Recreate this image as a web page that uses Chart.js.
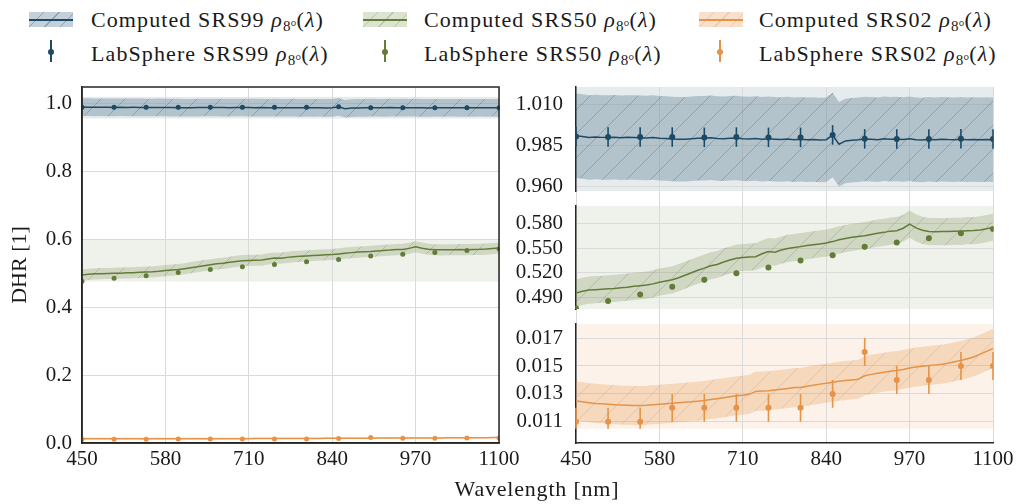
<!DOCTYPE html>
<html>
<head>
<meta charset="utf-8">
<script src="https://cdn.jsdelivr.net/npm/chart.js@4.4.1/dist/chart.umd.min.js"></script>
<style>
  body { margin: 0; background: #fff; font-family: "Liberation Serif", serif; color: #1a1a1a; }
  #fig { position: relative; width: 1019px; height: 504px; overflow: hidden; }
  .lg { position: absolute; font-size: 22px; line-height: 1; white-space: nowrap; letter-spacing: 1.1px; }
  .lg sub { font-size: 15px; vertical-align: -4px; letter-spacing: 0; }
  .sw { position: absolute; top: 12px; width: 44px; height: 15px; }
  .sw div { position: absolute; left: 0; right: 0; top: 6.5px; height: 2px; }
  .eb { position: absolute; top: 40px; width: 2px; height: 22px; }
  .eb div { position: absolute; left: -2px; top: 9px; width: 6px; height: 6px; border-radius: 3px; }
  #left { position: absolute; left: 0; top: 80px; }
  #right { position: absolute; left: 510px; top: 80px; }
  #xlabel { position: absolute; left: 387px; width: 300px; top: 478px; text-align: center; font-size: 22px; line-height: 1; letter-spacing: 0.8px; }
</style>
</head>
<body>
<div id="fig">
  <div class="sw" style="left:29px;background:repeating-linear-gradient(135deg,#c3d0d9 0 10px,#8da3b3 10px 11px);"><div style="background:#1d4a66"></div></div>
  <div class="lg" style="left:91px;top:9px">Computed SRS99 <i>ρ</i><sub>8°</sub>(<i>λ</i>)</div>
  <div class="sw" style="left:363px;background:repeating-linear-gradient(135deg,#dde3d1 0 10px,#b9c5a4 10px 11px);"><div style="background:#627d38"></div></div>
  <div class="lg" style="left:424px;top:9px">Computed SRS50 <i>ρ</i><sub>8°</sub>(<i>λ</i>)</div>
  <div class="sw" style="left:699px;background:repeating-linear-gradient(135deg,#f7e1cd 0 10px,#efc7a2 10px 11px);"><div style="background:#e69348"></div></div>
  <div class="lg" style="left:759px;top:9px">Computed SRS02 <i>ρ</i><sub>8°</sub>(<i>λ</i>)</div>

  <div class="eb" style="left:50px;background:#1d4a66"><div style="background:#1d4a66"></div></div>
  <div class="lg" style="left:91px;top:43px">LabSphere SRS99 <i>ρ</i><sub>8°</sub>(<i>λ</i>)</div>
  <div class="eb" style="left:384px;background:#627d38"><div style="background:#627d38"></div></div>
  <div class="lg" style="left:424px;top:43px">LabSphere SRS50 <i>ρ</i><sub>8°</sub>(<i>λ</i>)</div>
  <div class="eb" style="left:719px;background:#e69348"><div style="background:#e69348"></div></div>
  <div class="lg" style="left:759px;top:43px">LabSphere SRS02 <i>ρ</i><sub>8°</sub>(<i>λ</i>)</div>

  <canvas id="left" width="540" height="400"></canvas>
  <canvas id="right" width="509" height="400"></canvas>
  <div id="xlabel">Wavelength [nm]</div>
</div>
<script>
// wavelengths of the computed spectra [nm]
const wavelengths = [450, 460, 470, 480, 490, 500, 510, 520, 530, 540, 550, 560, 570, 580, 590,
  600, 610, 620, 630, 640, 650, 660, 670, 680, 690, 700, 710, 720, 730, 740, 750, 760, 770, 780,
  790, 800, 810, 820, 830, 840, 850, 860, 870, 880, 890, 900, 910, 920, 930, 940, 950, 960, 970,
  980, 990, 1000, 1010, 1020, 1030, 1040, 1050, 1060, 1070, 1080, 1090, 1100];

const srs99Computed = [0.9910, 0.9905, 0.9900, 0.9902, 0.9900, 0.9899, 0.9901, 0.9898, 0.9900, 0.9899,
  0.9897, 0.9896, 0.9899, 0.9895, 0.9893, 0.9890, 0.9888, 0.9889, 0.9892, 0.9894, 0.9895, 0.9897,
  0.9893, 0.9891, 0.9894, 0.9896, 0.9892, 0.9890, 0.9893, 0.9888, 0.9891, 0.9889, 0.9887, 0.9890,
  0.9886, 0.9888, 0.9885, 0.9887, 0.9884, 0.9886, 0.9914, 0.9858, 0.9878, 0.9883, 0.9886, 0.9890,
  0.9888, 0.9885, 0.9892, 0.9889, 0.9890, 0.9887, 0.9891, 0.9886, 0.9884, 0.9888, 0.9886, 0.9889,
  0.9887, 0.9886, 0.9888, 0.9886, 0.9887, 0.9885, 0.9887, 0.9886];

const srs50Computed = [0.4953, 0.4975, 0.4990, 0.4995, 0.5000, 0.5005, 0.5010, 0.5018, 0.5025, 0.5035,
  0.5042, 0.5050, 0.5065, 0.5085, 0.5100, 0.5114, 0.5140, 0.5170, 0.5200, 0.5230, 0.5256, 0.5285,
  0.5300, 0.5330, 0.5355, 0.5377, 0.5385, 0.5390, 0.5395, 0.5430, 0.5457, 0.5450, 0.5475, 0.5495,
  0.5505, 0.5517, 0.5530, 0.5540, 0.5550, 0.5560, 0.5578, 0.5600, 0.5615, 0.5630, 0.5640, 0.5650,
  0.5665, 0.5680, 0.5690, 0.5705, 0.5710, 0.5740, 0.5789, 0.5745, 0.5715, 0.5700, 0.5698, 0.5700,
  0.5700, 0.5705, 0.5703, 0.5710, 0.5712, 0.5720, 0.5735, 0.5752];

const srs02Computed = [0.01250, 0.01243, 0.01237, 0.01232, 0.01229, 0.01226, 0.01223, 0.01220, 0.01218,
  0.01217, 0.01216, 0.01218, 0.01222, 0.01226, 0.01229, 0.01233, 0.01236, 0.01240, 0.01244, 0.01248,
  0.01252, 0.01260, 0.01266, 0.01273, 0.01280, 0.01286, 0.01290, 0.01297, 0.01318, 0.01320, 0.01322,
  0.01328, 0.01333, 0.01338, 0.01345, 0.01346, 0.01355, 0.01362, 0.01370, 0.01376, 0.01383, 0.01390,
  0.01396, 0.01400, 0.01405, 0.01430, 0.01440, 0.01448, 0.01455, 0.01462, 0.01467, 0.01475, 0.01485,
  0.01492, 0.01498, 0.01504, 0.01508, 0.01512, 0.01520, 0.01530, 0.01540, 0.01552, 0.01565, 0.01585,
  0.01605, 0.01625];

// half width of the computed uncertainty bands
const srs99Band = 0.026;
const srs50Band = 0.0165;
const srs02Band = 0.0014;

// LabSphere certificate values
const labWavelengths = [450, 500, 550, 600, 650, 700, 750, 800, 850, 900, 950, 1000, 1050, 1100];
const srs99Measured = [0.9905, 0.9902, 0.9902, 0.9902, 0.9900, 0.9902, 0.9900, 0.9900, 0.9915, 0.9891, 0.9890, 0.9890, 0.9891, 0.9890];
const srs50Measured = [0.477, 0.4856, 0.4936, 0.503, 0.5114, 0.5195, 0.5263, 0.5348, 0.5413, 0.5514, 0.5566, 0.562, 0.568, 0.573];
const srs02Measured = [0.011, 0.011, 0.011, 0.012, 0.012, 0.012, 0.012, 0.012, 0.013, 0.016, 0.014, 0.014, 0.015, 0.015];
const srs99Err = 0.006;
const srs50Err = 0.003;
const srs02Err = 0.001;

const xTicks = [450, 580, 710, 840, 970, 1100];
const leftTicks = [0.0, 0.2, 0.4, 0.6, 0.8, 1.0];
const topTicks = [0.960, 0.985, 1.010];
const midTicks = [0.490, 0.520, 0.550, 0.580];
const lowTicks = [0.011, 0.013, 0.015, 0.017];

const BLUE = '#1d4a66', GREEN = '#627d38', ORANGE = '#e69348';
const GRID = '#dadada', SPINE = '#262626', TEXT = '#1a1a1a';
const SERIF = '"Liberation Serif", serif';
const tickFont = {family: SERIF, size: 21, lineHeight: 1.2};

function hatch(fill, line) {
    let c = document.createElement('canvas');
    c.width = 24; c.height = 24;
    let g = c.getContext('2d');
    g.fillStyle = fill;
    g.fillRect(0, 0, 24, 24);
    g.strokeStyle = line;
    g.lineWidth = 0.8;
    g.beginPath();
    g.moveTo(-2, 26); g.lineTo(26, -2);
    g.stroke();
    return g.createPattern(c, 'repeat');
}

function band(values, half, color, pattern, axis, lo, hi) {
    let clamp = v => Math.min(hi, Math.max(lo, v));
    return [{
        data: wavelengths.map((w, i) => ({x: w, y: clamp(values[i] + half)})),
        yAxisID: axis, pointRadius: 0, borderWidth: 0, fill: false
    }, {
        data: wavelengths.map((w, i) => ({x: w, y: clamp(values[i] - half)})),
        yAxisID: axis, pointRadius: 0, borderWidth: 0, fill: '-1', backgroundColor: pattern
    }, {
        data: wavelengths.map((w, i) => ({x: w, y: values[i]})),
        yAxisID: axis, pointRadius: 0, borderWidth: 1.5, borderColor: color, fill: false
    }];
}

function measured(values, err, color, axis, radius, clip) {
    return {
        data: labWavelengths.map((w, i) => ({x: w, y: values[i]})),
        yAxisID: axis, showLine: false, pointRadius: radius, pointBorderWidth: 0,
        pointBackgroundColor: color, borderColor: color, err: err, errClip: clip
    };
}

// light shading of the zoomed ranges
const shade = {
    id: 'shade',
    beforeDraw(chart, args, opts) {
        let {ctx, chartArea} = chart;
        opts.rects.forEach(r => {
            let s = chart.scales[r.axis];
            let top = s.getPixelForValue(r.hi), bottom = s.getPixelForValue(r.lo);
            ctx.fillStyle = r.color;
            ctx.fillRect(chartArea.left, top, chartArea.right - chartArea.left, bottom - top);
        });
    }
};

const errorBars = {
    id: 'errorBars',
    beforeDatasetDraw(chart, args) {
        let ds = chart.data.datasets[args.index];
        if (!ds.err) return;
        let ctx = chart.ctx, xs = chart.scales.x, ys = chart.scales[ds.yAxisID];
        let clip = ds.errClip || [ys.min, ys.max];
        let top = ys.getPixelForValue(clip[1]), bottom = ys.getPixelForValue(clip[0]);
        ctx.save();
        ctx.beginPath();
        ctx.rect(chart.chartArea.left - 2, top, chart.chartArea.width + 4, bottom - top);
        ctx.clip();
        ctx.strokeStyle = ds.borderColor;
        ctx.lineWidth = 1.6;
        ds.data.forEach(p => {
            let x = xs.getPixelForValue(p.x);
            ctx.beginPath();
            ctx.moveTo(x, ys.getPixelForValue(p.y - ds.err));
            ctx.lineTo(x, ys.getPixelForValue(p.y + ds.err));
            ctx.stroke();
        });
        ctx.restore();
    }
};

const frame = {
    id: 'frame',
    afterDatasetsDraw(chart) {
        let {ctx, chartArea} = chart;
        ctx.save();
        ctx.strokeStyle = SPINE;
        ctx.lineWidth = 1.5;
        ctx.strokeRect(chartArea.left, chartArea.top, chartArea.width, chartArea.height);
        ctx.restore();
    }
};

function xAxis() {
    return {
        type: 'linear', min: 450, max: 1100,
        afterBuildTicks: s => { s.ticks = xTicks.map(v => ({value: v})); },
        ticks: {font: tickFont, color: TEXT, padding: 4, maxRotation: 0, autoSkip: false, callback: v => String(v)},
        grid: {color: GRID, drawTicks: false},
        border: {color: SPINE, width: 1.5},
        afterFit: s => { s.height = 37; s.paddingLeft = 0; s.paddingRight = 0; }
    };
}

function yAxis(min, max, ticks, digits, width, pad, extra) {
    return Object.assign({
        type: 'linear', position: 'left', min: min, max: max,
        afterBuildTicks: s => { s.ticks = ticks.map(v => ({value: v})); },
        ticks: {font: tickFont, color: TEXT, padding: pad, autoSkip: false, callback: v => v.toFixed(digits)},
        grid: {color: GRID, drawTicks: false},
        border: {color: SPINE, width: 1.5},
        afterFit: s => { s.width = width; s.paddingTop = 0; s.paddingBottom = 0; }
    }, extra);
}

// right side: spacer axes between the three stacked y ranges
function gap(weight) {
    return {
        type: 'linear', position: 'left', stack: 'zoom', stackWeight: 15, weight: weight,
        ticks: {display: false}, grid: {display: false}, border: {display: false},
        afterFit: s => { s.paddingTop = 0; s.paddingBottom = 0; }
    };
}

function draw() {
    Chart.defaults.font.family = SERIF;
    const blueHatch = hatch('rgba(29,74,102,0.25)', 'rgba(29,74,102,0.35)');
    const greenHatch = hatch('rgba(98,125,56,0.22)', 'rgba(98,125,56,0.35)');
    const orangeHatch = hatch('rgba(230,147,72,0.28)', 'rgba(230,147,72,0.4)');

    new Chart(document.getElementById('left'), {
        type: 'line',
        data: {
            datasets: [
                ...band(srs99Computed, srs99Band, BLUE, blueHatch, 'y', 0, 1.05),
                ...band(srs50Computed, srs50Band, GREEN, greenHatch, 'y', 0, 1.05),
                ...band(srs02Computed, srs02Band, ORANGE, orangeHatch, 'y', 0, 1.05),
                measured(srs99Measured, srs99Err, BLUE, 'y', 2.5),
                measured(srs50Measured, srs50Err, GREEN, 'y', 2.5),
                measured(srs02Measured, srs02Err, ORANGE, 'y', 2.5)
            ]
        },
        options: {
            responsive: false, animation: false, devicePixelRatio: 1,
            layout: {padding: {left: 0, top: 7, right: 41, bottom: 0}},
            plugins: {
                legend: {display: false}, tooltip: {enabled: false},
                shade: {rects: [
                    {axis: 'y', lo: 0.957, hi: 1.021, color: 'rgba(29,74,102,0.11)'},
                    {axis: 'y', lo: 0.476, hi: 0.601, color: 'rgba(98,125,56,0.10)'},
                    {axis: 'y', lo: 0.0105, hi: 0.018, color: 'rgba(230,147,72,0.12)'}
                ]}
            },
            scales: {
                x: xAxis(),
                y: yAxis(0, 1.05, leftTicks, 1, 82, 10, {
                    title: {display: true, text: 'DHR [1]', color: TEXT, font: {family: SERIF, size: 22}, padding: {top: 7, bottom: 0}}
                })
            }
        },
        plugins: [shade, errorBars, frame]
    });

    new Chart(document.getElementById('right'), {
        type: 'line',
        data: {
            datasets: [
                ...band(srs99Computed, srs99Band, BLUE, blueHatch, 'yTop', 0.957, 1.021),
                ...band(srs50Computed, srs50Band, GREEN, greenHatch, 'yMid', 0.476, 0.601),
                ...band(srs02Computed, srs02Band, ORANGE, orangeHatch, 'yLow', 0.0105, 0.018),
                measured(srs99Measured, srs99Err, BLUE, 'yTop', 3),
                measured(srs50Measured, srs50Err, GREEN, 'yMid', 3),
                measured(srs02Measured, srs02Err, ORANGE, 'yLow', 3, [0.0105, 0.018])
            ]
        },
        options: {
            responsive: false, animation: false, devicePixelRatio: 1,
            layout: {padding: {left: 0, top: 7, right: 26, bottom: 0}},
            plugins: {
                legend: {display: false}, tooltip: {enabled: false},
                shade: {rects: [
                    {axis: 'yTop', lo: 0.957, hi: 1.021, color: 'rgba(29,74,102,0.11)'},
                    {axis: 'yMid', lo: 0.476, hi: 0.601, color: 'rgba(98,125,56,0.10)'},
                    {axis: 'yLow', lo: 0.0105, hi: 0.018, color: 'rgba(230,147,72,0.12)'}
                ]}
            },
            scales: {
                x: xAxis(),
                yTop: yAxis(0.957, 1.021, topTicks, 3, 66, 13, {stack: 'zoom', stackWeight: 104, weight: 5}),
                gap1: gap(4),
                yMid: yAxis(0.476, 0.601, midTicks, 3, 66, 13, {stack: 'zoom', stackWeight: 103, weight: 3}),
                gap2: gap(2),
                yLow: yAxis(0.00948, 0.01801, lowTicks, 3, 66, 13, {stack: 'zoom', stackWeight: 119, weight: 1})
            }
        },
        plugins: [shade, errorBars]
    });
}

// make sure the serif face is ready before the canvases draw text
document.fonts.load('21px "Liberation Serif"').then(draw, draw);
</script>
</body>
</html>
